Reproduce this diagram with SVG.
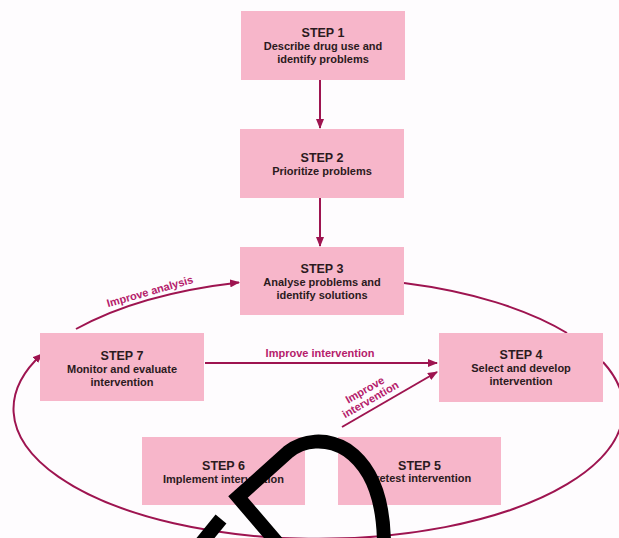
<svg xmlns="http://www.w3.org/2000/svg" width="619" height="538" viewBox="0 0 619 538">
<style>
.box{fill:#f7b6ca;}
.t{font-family:"Liberation Sans",Arial,sans-serif;font-weight:bold;fill:#2b1a20;text-anchor:middle;font-size:11px;}
.h{font-size:12.5px;}
.c{fill:none;stroke:#9e1450;stroke-width:2;}
.lbl{font-family:"Liberation Sans",Arial,sans-serif;font-weight:bold;fill:#b5206b;font-size:11px;text-anchor:middle;}
.blot{fill:none;stroke:#000;stroke-width:14;}
</style>
<defs>
<marker id="ah" markerWidth="10" markerHeight="8" refX="9" refY="4" orient="auto" markerUnits="userSpaceOnUse">
<path d="M0,0 L10,4 L0,8 Z" fill="#9e1450"/>
</marker>
</defs>
<rect width="619" height="538" fill="#fefcfe"/>
<g id="connectors">
<line class="c" x1="320" y1="80" x2="320" y2="128" marker-end="url(#ah)"/>
<line class="c" x1="320" y1="198" x2="320" y2="246" marker-end="url(#ah)"/>
<path class="c" d="M76 329 A305 130 0 0 1 239 282.4" marker-end="url(#ah)"/>
<path class="c" d="M404 283 A305 130 0 0 1 567 333"/>
<path class="c" d="M603 362 A305 130 0 1 1 42 354" marker-end="url(#ah)"/>
<line class="c" x1="205" y1="363" x2="437" y2="363" marker-end="url(#ah)"/>
<line class="c" x1="342" y1="427" x2="437" y2="372" marker-end="url(#ah)"/>
<text class="lbl" transform="translate(151,295) rotate(-16)">Improve analysis</text>
<text class="lbl" x="320" y="357">Improve intervention</text>
<g transform="translate(367.5,394.5) rotate(-30)">
<text class="lbl" x="0" y="-1.6">Improve</text>
<text class="lbl" x="0" y="9.6">intervention</text>
</g>
</g>
<g id="step1">
<rect class="box" x="241" y="11" width="164" height="69"/>
<text class="t h" x="323" y="37">STEP 1</text>
<text class="t" x="323" y="50">Describe drug use and</text>
<text class="t" x="323" y="63">identify problems</text>
</g>
<g id="step2">
<rect class="box" x="240" y="129" width="164" height="69"/>
<text class="t h" x="322" y="162">STEP 2</text>
<text class="t" x="322" y="175">Prioritize problems</text>
</g>
<g id="step3">
<rect class="box" x="240" y="247" width="164" height="68"/>
<text class="t h" x="322" y="273">STEP 3</text>
<text class="t" x="322" y="286">Analyse problems and</text>
<text class="t" x="322" y="299">identify solutions</text>
</g>
<g id="step4">
<rect class="box" x="439" y="333" width="164" height="69"/>
<text class="t h" x="521" y="359">STEP 4</text>
<text class="t" x="521" y="372">Select and develop</text>
<text class="t" x="521" y="385">intervention</text>
</g>
<g id="step5">
<rect class="box" x="338" y="437" width="163" height="68"/>
<text class="t h" x="419.5" y="470">STEP 5</text>
<text class="t" x="419.5" y="482">Pretest intervention</text>
</g>
<g id="step6">
<rect class="box" x="142" y="437" width="163" height="68"/>
<text class="t h" x="223.5" y="470">STEP 6</text>
<text class="t" x="223.5" y="483">Implement intervention</text>
</g>
<g id="step7">
<rect class="box" x="40" y="333" width="164" height="68"/>
<text class="t h" x="122" y="360">STEP 7</text>
<text class="t" x="122" y="373">Monitor and evaluate</text>
<text class="t" x="122" y="386">intervention</text>
</g>
<path class="blot" d="M199 546 L221 519"/>
<path class="blot" d="M280 546 L238 497 L288 452 C303 440 326 437 347 450 C373 468 384 500 384 546" stroke-linejoin="miter"/>
</svg>
